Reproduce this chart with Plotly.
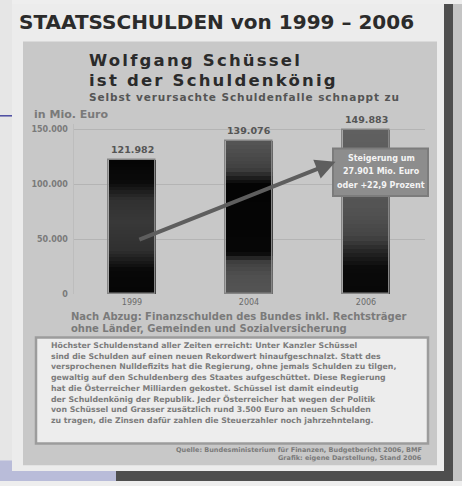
import plotly.graph_objects as go

# ---------------- data ----------------
years = ["1999", "2004", "2006"]
debt = [121982, 139076, 149883]
value_labels = ["121.982", "139.076", "149.883"]
y_ticks = [0, 50000, 100000, 150000]
y_tick_labels = ["0", "50.000", "100.000", "150.000"]

title_text = "STAATSSCHULDEN von 1999 – 2006"
head_lines = ["Wolfgang Schüssel", "ist der Schuldenkönig"]
sub_text = "Selbst verursachte Schuldenfalle schnappt zu"
unit_text = "in Mio. Euro"
foot_lines = ["Nach Abzug: Finanzschulden des Bundes inkl. Rechtsträger",
              "ohne Länder, Gemeinden und Sozialversicherung"]
box_lines = ["Steigerung um", "27.901 Mio. Euro", "oder +22,9 Prozent"]
para_lines = [
    "Höchster Schuldenstand aller Zeiten erreicht: Unter Kanzler Schüssel",
    "sind die Schulden auf einen neuen Rekordwert hinaufgeschnalzt. Statt des",
    "versprochenen Nulldefizits hat die Regierung, ohne jemals Schulden zu tilgen,",
    "gewaltig auf den Schuldenberg des Staates aufgeschüttet. Diese Regierung",
    "hat die Österreicher Milliarden gekostet. Schüssel ist damit eindeutig",
    "der Schuldenkönig der Republik. Jeder Österreicher hat wegen der Politik",
    "von Schüssel und Grasser zusätzlich rund 3.500 Euro an neuen Schulden",
    "zu tragen, die Zinsen dafür zahlen die Steuerzahler noch jahrzehntelang.",
]
source_lines = ["Quelle: Bundesministerium für Finanzen, Budgetbericht 2006, BMF",
                "Grafik: eigene Darstellung, Stand 2006"]

# gradient styling per bar: (fraction of bar height from bottom, grey level)
bar_gradients = [
    [(0.0, 0x06), (0.18, 0x08), (0.33, 0x30), (0.55, 0x38), (0.7, 0x30), (0.84, 0x0a), (1.0, 0x05)],
    [(0.0, 0x55), (0.12, 0x50), (0.21, 0x40), (0.27, 0x06), (0.72, 0x04), (0.82, 0x40), (1.0, 0x56)],
    [(0.0, 0x08), (0.16, 0x0a), (0.27, 0x28), (0.35, 0x45), (0.5, 0x52), (0.65, 0x58), (1.0, 0x60)],
]
N_SEG = 40

W, H = 462, 486


def px(x):
    return x / W


def py(y):
    return 1 - y / H


def grey_at(stops, f):
    for (f0, g0), (f1, g1) in zip(stops[:-1], stops[1:]):
        if f0 <= f <= f1:
            t = (f - f0) / (f1 - f0) if f1 > f0 else 0
            g = int(round(g0 + (g1 - g0) * t))
            return f"rgb({g},{g},{g})"
    g = stops[-1][1]
    return f"rgb({g},{g},{g})"


fig = go.Figure()

# gradient bars: stacked slices of each data bar
for i in range(N_SEG):
    f_mid = (i + 0.5) / N_SEG
    fig.add_trace(go.Bar(
        x=years,
        y=[v / N_SEG for v in debt],
        base=[v * i / N_SEG for v in debt],
        marker=dict(color=[grey_at(g, f_mid) for g in bar_gradients], line=dict(width=0)),
        width=0.4,
        showlegend=False,
        hoverinfo="skip",
    ))
# outline of each bar
fig.add_trace(go.Bar(
    x=years, y=debt, width=0.4,
    marker=dict(color="rgba(0,0,0,0)", line=dict(color="#858585", width=1.5)),
    showlegend=False, hoverinfo="skip",
))

FONT = "DejaVu Sans"
ann = []
# value labels above bars
for idx, (v, lab) in enumerate(zip(debt, value_labels)):
    ann.append(dict(x=idx, y=v, xref="x", yref="y", text=f"<b>{lab}</b>", showarrow=False,
                    yanchor="bottom", yshift=3, font=dict(family=FONT, size=9.5, color="#555555")))

# arrow
ann.append(dict(x=1.74, y=120500, ax=0.05, ay=49000, xref="x", yref="y", axref="x", ayref="y",
                text="", showarrow=True, arrowhead=2, arrowsize=1, arrowwidth=4,
                arrowcolor="#5e5e5e"))

# box text
for k, line in enumerate(box_lines):
    ann.append(dict(x=px(381), y=py(160 + k * 13.5), xref="paper", yref="paper",
                    text=f"<b>{line}</b>", showarrow=False, xanchor="center", yanchor="middle",
                    font=dict(family=FONT, size=8, color="#f4f4f4")))

# title
ann.append(dict(x=px(17), y=py(22), xref="paper", yref="paper", text=f"<b>{title_text}</b>",
                showarrow=False, xanchor="left", yanchor="middle",
                font=dict(family=FONT, size=20, color="#2b2b2b")))
for k, line in enumerate(head_lines):
    ann.append(dict(x=px(88), y=py(61 + k * 20.5), xref="paper", yref="paper",
                    text=f"<span style='letter-spacing:2.2px'><b>{line}</b></span>",
                    showarrow=False, xanchor="left", yanchor="middle", borderpad=0,
                    font=dict(family=FONT, size=16.5, color="#2b2b2b")))
ann.append(dict(x=px(88), y=py(98), xref="paper", yref="paper",
                text=f"<span style='letter-spacing:0.9px'><b>{sub_text}</b></span>",
                showarrow=False, xanchor="left", yanchor="middle", borderpad=0,
                font=dict(family=FONT, size=10.5, color="#555555")))
ann.append(dict(x=px(32), y=py(116), xref="paper", yref="paper", text=f"<b>{unit_text}</b>",
                showarrow=False, xanchor="left", yanchor="middle",
                font=dict(family=FONT, size=11, color="#7a7a7a")))
for k, line in enumerate(foot_lines):
    ann.append(dict(x=px(70), y=py(320 + k * 12), xref="paper", yref="paper", text=f"<b>{line}</b>",
                    showarrow=False, xanchor="left", yanchor="middle", borderpad=0,
                    font=dict(family=FONT, size=10, color="#7a7a7a")))
for k, line in enumerate(para_lines):
    ann.append(dict(x=px(50), y=py(349 + k * 10.8), xref="paper", yref="paper", text=f"<b>{line}</b>",
                    showarrow=False, xanchor="left", yanchor="middle", borderpad=0,
                    font=dict(family=FONT, size=7.8, color="#7c7c7c")))
for k, line in enumerate(source_lines):
    ann.append(dict(x=px(423), y=py(455 + k * 8), xref="paper", yref="paper", text=f"<b>{line}</b>",
                    showarrow=False, xanchor="right", yanchor="middle", borderpad=0,
                    font=dict(family=FONT, size=6.5, color="#7a7a7a")))

# background shapes (the clipping)
shapes = [
    dict(type="rect", xref="paper", yref="paper", x0=0, x1=1, y0=0, y1=1,
         fillcolor="#eeeeee", line=dict(width=0), layer="below"),
    dict(type="rect", xref="paper", yref="paper", x0=px(443), x1=px(453), y0=0, y1=py(4),
         fillcolor="#4e4e4e", line=dict(width=0), layer="below"),
    dict(type="rect", xref="paper", yref="paper", x0=px(453), x1=1, y0=0, y1=py(4),
         fillcolor="#c4c4c4", line=dict(width=0), layer="below"),
    dict(type="rect", xref="paper", yref="paper", x0=px(115), x1=px(453), y0=0, y1=py(470),
         fillcolor="#4e4e4e", line=dict(width=0), layer="below"),
    dict(type="rect", xref="paper", yref="paper", x0=0, x1=px(116), y0=0, y1=py(465),
         fillcolor="#b9bcd9", line=dict(width=0), layer="below"),
    dict(type="rect", xref="paper", yref="paper", x0=0, x1=px(12), y0=py(465), y1=1,
         fillcolor="#e6e6e6", line=dict(width=0), layer="below"),
    dict(type="rect", xref="paper", yref="paper", x0=px(12), x1=px(444), y0=py(476), y1=py(4),
         fillcolor="#ececec", line=dict(width=0), layer="below"),
    dict(type="rect", xref="paper", yref="paper", x0=px(23), x1=px(437), y0=py(470), y1=py(42),
         fillcolor="#c8c8c8", line=dict(width=0), layer="below"),
    dict(type="rect", xref="paper", yref="paper", x0=px(36), x1=px(428), y0=py(448), y1=py(341),
         fillcolor="#ededed", line=dict(color="#9c9c9c", width=2.5), layer="below"),
    dict(type="line", xref="paper", yref="paper", x0=0, x1=px(12), y0=py(117), y1=py(117),
         line=dict(color="#4a4aa0", width=1.5), layer="below"),
    dict(type="rect", xref="paper", yref="paper", x0=px(333), x1=px(428), y0=py(198), y1=py(150),
         fillcolor="#8d8d8d", line=dict(color="#7c7c7c", width=2), layer="above"),
]

fig.update_layout(
    width=W, height=H,
    margin=dict(l=0, r=0, t=0, b=0),
    paper_bgcolor="#eeeeee",
    plot_bgcolor="rgba(0,0,0,0)",
    barmode="overlay",
    bargap=0,
    showlegend=False,
    shapes=shapes,
    annotations=ann,
    xaxis=dict(domain=[73.5 / W, 424.5 / W], type="category", range=[-0.5, 2.5],
               showgrid=False, zeroline=False, showline=False, ticks="",
               tickfont=dict(family=FONT, size=8, color="#6a6a6a"), ticklabelstandoff=2),
    yaxis=dict(domain=[(H - 297) / H, (H - 297) / H + 171.8 / H], range=[0, 155000],
               tickvals=y_ticks, ticktext=[f"<b>{t}</b>" for t in y_tick_labels],
               showgrid=True, gridcolor="#b4b4b4", gridwidth=1, zeroline=False,
               showline=True, linecolor="#bdbdbd", linewidth=1, ticks="",
               tickfont=dict(family=FONT, size=8, color="#7a7a7a"), ticklabelstandoff=3),
)

fig.write_html("out.html", config={"displayModeBar": False},
               post_script="document.body.style.margin='0px';document.body.style.padding='0px';")
